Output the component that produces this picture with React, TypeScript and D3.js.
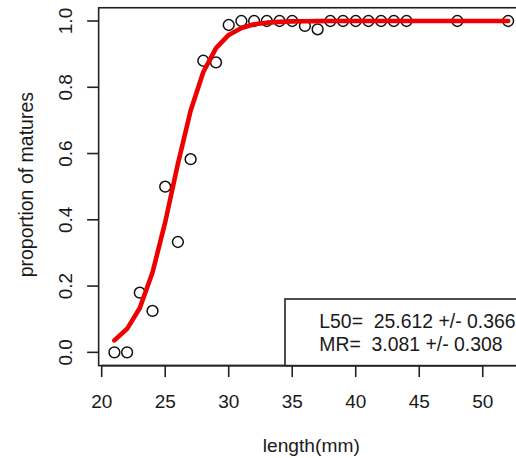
import React from "react";
import * as d3 from "d3";

const lengths = [21, 22, 23, 24, 25, 26, 27, 28, 29, 30, 31, 32, 33, 34, 35, 36, 37, 38, 39, 40, 41, 42, 43, 44, 48, 52];
const proportions = [0, 0, 0.18, 0.125, 0.5, 0.333, 0.583, 0.88, 0.875, 0.988, 1, 1, 1, 1, 1, 0.985, 0.975, 1, 1, 1, 1, 1, 1, 1, 1, 1];
const fitted = [0.036, 0.071, 0.134, 0.241, 0.393, 0.569, 0.729, 0.846, 0.918, 0.958, 0.979, 0.99, 0.995, 0.9975, 0.9988, 0.9994, 0.9997, 0.9999, 1, 1, 1, 1, 1, 1, 1, 1];
const xTicks = [20, 25, 30, 35, 40, 45, 50];
const yTicks = [0, 0.2, 0.4, 0.6, 0.8, 1.0];
const legendLines = ["L50=  25.612 +/- 0.366", "MR=  3.081 +/- 0.308"];
const xLabel = "length(mm)";
const yLabel = "proportion of matures";

const W = 516;
const H = 458;
const FONT = "'Liberation Sans', Arial, sans-serif";
const TXT = "#1a1a1a";

export default function App() {
  const x = d3.scaleLinear().domain([19.76, 53.24]).range([98.65, 523.9]);
  const y = d3.scaleLinear().domain([-0.04, 1.04]).range([365.6, 7.75]);
  const pts = lengths.map((l, i) => [l, fitted[i]] as [number, number]);
  const line = d3
    .line<[number, number]>()
    .x((d) => x(d[0]))
    .y((d) => y(d[1]));

  const [x0, x1] = x.range();
  const [yb, yt] = y.range();

  return (
    <svg
      width={W}
      height={H}
      style={{ position: "fixed", left: 0, top: 0, background: "#fff" }}
      fontFamily={FONT}
    >
      <rect x={0} y={0} width={W} height={H} fill="#fff" />
      {lengths.map((l, i) => (
        <circle
          key={i}
          cx={x(l)}
          cy={y(proportions[i])}
          r={5.4}
          fill="none"
          stroke="#111"
          strokeWidth={1.5}
        />
      ))}
      <path
        d={line(pts) || ""}
        fill="none"
        stroke="#ee0000"
        strokeWidth={4.6}
        strokeLinejoin="round"
        strokeLinecap="round"
      />
      <rect
        x={x0}
        y={yt}
        width={x1 - x0}
        height={yb - yt}
        fill="none"
        stroke="#222"
        strokeWidth={1.6}
      />
      <line x1={x(20)} x2={x(50)} y1={yb} y2={yb} stroke="#222" strokeWidth={1.6} />
      {xTicks.map((t) => (
        <g key={t}>
          <line x1={x(t)} x2={x(t)} y1={yb} y2={yb + 11.5} stroke="#222" strokeWidth={1.6} />
          <text x={x(t)} y={407.7} textAnchor="middle" fontSize={19} fill={TXT}>
            {t}
          </text>
        </g>
      ))}
      {yTicks.map((t) => (
        <g key={t}>
          <line x1={x0} x2={x0 - 11.5} y1={y(t)} y2={y(t)} stroke="#222" strokeWidth={1.6} />
          <text
            transform={`translate(72,${y(t)}) rotate(-90)`}
            textAnchor="middle"
            fontSize={19}
            fill={TXT}
          >
            {t.toFixed(1)}
          </text>
        </g>
      ))}
      <text x={(x0 + x1) / 2} y={452} textAnchor="middle" fontSize={19.2} fill={TXT}>
        {xLabel}
      </text>
      <text
        transform={`translate(33,${(yb + yt) / 2 - 2}) rotate(-90)`}
        textAnchor="middle"
        fontSize={19.5}
        fill={TXT}
      >
        {yLabel}
      </text>
      <rect x={285} y={299} width={x1 - 285} height={yb - 299} fill="#fff" stroke="#222" strokeWidth={1.6} />
      {legendLines.map((s, i) => (
        <text key={i} x={319.3} y={328.3 + i * 22.4} fontSize={19.4} fill={TXT} style={{ whiteSpace: "pre" }}>
          {s}
        </text>
      ))}
    </svg>
  );
}
